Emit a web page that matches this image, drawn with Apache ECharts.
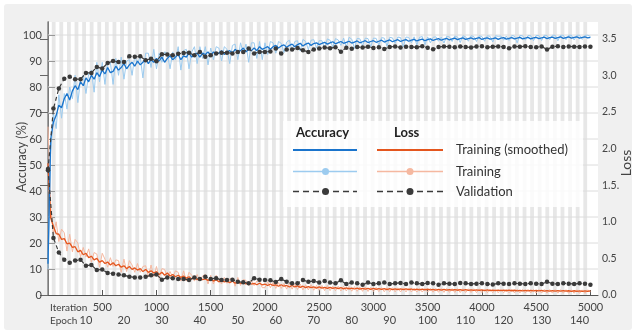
<!DOCTYPE html>
<html>
<head>
<meta charset="utf-8">
<script src="https://cdn.jsdelivr.net/npm/echarts@6/dist/echarts.min.js"></script>
<style>
html,body{margin:0;padding:0;background:#ffffff;}
#chart{width:636px;height:333px;}
</style>
</head>
<body>
<div id="chart"></div>
<script>
// ---- data ----
const ITER_STEP = 25;          // training samples every 25 iterations
const VAL_STEP = 50;           // validation every 50 iterations
const ITERS_PER_EPOCH = 35;
const MAX_ITER = 5000;

const iterTicks = [500,1000,1500,2000,2500,3000,3500,4000,4500,5000];
const epochTicks = [10,20,30,40,50,60,70,80,90,100,110,120,130,140];
const accTicks = [0,10,20,30,40,50,60,70,80,90,100];
const lossTicks = [0,0.5,1,1.5,2,2.5,3,3.5];
const lossTickLabels = ['0.0','0.5','1.0','1.5.','2.0','2.5','3.0','3.5'];

const accSmoothed = [
 12,60,66.5,69,73,72,75.5,77.5,75,78.5,80.5,79,82,80.5,83.5,82,84.5,83,85.5,84,
 86.5,85,87.5,85.5,86,88,86.5,87.5,89,87,88.5,89.5,88,90,88.5,89.5,91,89,90.5,89.5,
 91,90,91.5,89.5,91,92,90.5,91.5,92.5,90.5,92,91.5,93,91.5,92.5,93,91.5,93,92.5,93.5,
 92,93.5,92.5,93,94,92.5,93.5,94,93,94.5,93.5,94,95,93.5,94.5,94,95,94,95.5,94.5,
 95,95.5,94.5,95.5,96,95,95.8,96.2,95.3,96,96.5,95.5,96.3,96.8,95.8,96.5,96.9,96,96.7,97,
 96.3,96.8,97.2,96.5,97,97.4,96.6,97.1,97.5,96.8,97.2,97.6,96.9,97.3,97.7,97,97.4,97.8,97.1,97.5,
 97.8,97.2,97.6,98,97.3,97.7,98.1,97.4,97.8,98.2,97.5,97.9,98.2,97.6,98,98.3,97.7,98.1,98.4,97.8,
 98.2,98.5,97.9,98.3,98.6,98,98.4,98.7,98.1,98.5,98.8,98.2,98.6,98.9,98.3,98.6,98.9,98.4,98.7,99,
 98.3,98.7,98.9,98.4,98.6,98.9,98.3,98.8,99,98.4,98.7,99,98.5,98.8,99.1,98.5,98.8,99.1,98.5,98.9,
 99.1,98.6,98.9,99.2,98.6,99,99.2,98.7,99,99.3,98.7,99,99.3,98.8,99.1,99.3,98.8,99.1,99.3,98.9,
 99.1
];
const accTraining = [
 10,55,69.5,64,77,68,77.5,71.5,80,75.5,84.5,74,83,84.5,77.5,85,86.5,78,89.5,82,
 89.5,81,89.5,89.5,81,91,84.5,91.5,83,90,90.5,84.5,92,89,91.5,83.5,93,93,87.5,94.5,
 87,93,89.5,93.5,93,87,93.5,90.5,95.5,86.5,94,94.5,87,93.5,95.5,89,95.5,91,95.5,88.5,
 95,90.5,95.5,95,90,95.5,94.5,89,96,96.5,90.5,97,93,96.5,89.5,97,97,91,97.5,90.5,
 97,92.5,97.5,97,93,97.5,96.8,93.2,97.3,98,94,97.5,97.8,93.8,98.3,97.5,94.4,98,98.2,95,
 97.8,97.8,94.7,98.5,98,95.4,98.6,98.1,96,98.8,95.2,99.1,98.4,94.8,98.7,98.5,95.9,98.8,98.6,95.5,
 98.8,98.7,96.1,99,98.8,95.7,99.1,98.9,96.8,99.2,99,95.4,99.2,99.1,97,99.3,96.2,99.1,99.4,96.3,
 99.2,97,99.1,99.3,97.6,99.2,96.9,99.5,99.3,97.5,99.6,99.2,97.1,99.7,99.3,97.6,99.7,99.4,97.5,99.7,
 99.4,97.6,99.7,99.5,97.3,99.7,99.5,99.6,98,99.6,97.9,99.8,99.6,97,99.8,99.7,98,99.8,99.7,97.8,
 99.8,99.8,97.9,99.9,99.8,98.2,99.9,99.9,97.8,99.9,99.9,98.2,99.9,99.9,98.1,99.9,99.9,98.3,99.9,99.9,
 99.5
];
const lossSmoothed = [
 1.8,1.05,0.94,0.84,0.83,0.76,0.77,0.7,0.71,0.65,0.66,0.59,0.61,0.55,0.57,0.51,0.53,0.48,0.5,0.45,
 0.47,0.43,0.45,0.41,0.44,0.4,0.42,0.38,0.4,0.36,0.39,0.35,0.37,0.34,0.36,0.32,0.35,0.31,0.33,0.3,
 0.32,0.28,0.31,0.27,0.3,0.26,0.28,0.25,0.27,0.24,0.26,0.23,0.25,0.22,0.24,0.21,0.23,0.21,0.22,0.2,
 0.22,0.19,0.21,0.18,0.2,0.18,0.19,0.17,0.19,0.16,0.18,0.16,0.17,0.15,0.17,0.15,0.16,0.14,0.16,0.14,
 0.15,0.13,0.15,0.13,0.14,0.12,0.14,0.12,0.13,0.11,0.13,0.11,0.125,0.105,0.12,0.1,0.115,0.1,0.11,0.095,
 0.11,0.095,0.105,0.09,0.105,0.09,0.1,0.088,0.1,0.085,0.098,0.085,0.095,0.082,0.095,0.08,0.092,0.08,0.09,0.078,
 0.09,0.077,0.088,0.076,0.087,0.075,0.086,0.074,0.085,0.073,0.084,0.072,0.083,0.072,0.082,0.071,0.081,0.07,0.08,0.07,
 0.079,0.069,0.078,0.068,0.077,0.067,0.076,0.066,0.075,0.066,0.074,0.065,0.073,0.064,0.072,0.064,0.071,0.063,0.07,0.062,
 0.07,0.061,0.069,0.06,0.068,0.06,0.067,0.059,0.066,0.058,0.066,0.058,0.065,0.057,0.064,0.057,0.064,0.056,0.063,0.056,
 0.062,0.055,0.062,0.054,0.061,0.054,0.06,0.053,0.06,0.052,0.059,0.052,0.058,0.051,0.058,0.05,0.057,0.05,0.056,0.05,
 0.055
];
const lossTraining = [
 2.3,1.2,0.84,1.0,0.73,0.9,0.85,0.6,0.83,0.59,0.76,0.71,0.52,0.65,0.52,0.63,0.45,0.58,0.56,0.38,
 0.57,0.49,0.38,0.51,0.39,0.48,0.47,0.31,0.49,0.32,0.47,0.41,0.31,0.43,0.31,0.39,0.4,0.25,0.41,0.25,
 0.39,0.23,0.36,0.35,0.24,0.32,0.24,0.33,0.31,0.19,0.33,0.19,0.31,0.27,0.19,0.28,0.19,0.26,0.28,0.15,
 0.27,0.15,0.27,0.21,0.15,0.24,0.16,0.22,0.23,0.12,0.24,0.13,0.21,0.2,0.13,0.2,0.13,0.19,0.19,0.1,
 0.1,0.18,0.1,0.17,0.09,0.17,0.09,0.16,0.08,0.16,0.08,0.15,0.075,0.15,0.07,0.14,0.07,0.14,0.065,0.13,
 0.065,0.13,0.06,0.13,0.06,0.12,0.058,0.12,0.055,0.12,0.055,0.115,0.052,0.115,0.05,0.11,0.05,0.11,0.048,0.105,
 0.048,0.105,0.046,0.1,0.045,0.1,0.044,0.1,0.043,0.098,0.042,0.097,0.042,0.096,0.041,0.095,0.04,0.094,0.04,0.093,
 0.039,0.092,0.038,0.091,0.037,0.09,0.036,0.089,0.036,0.088,0.035,0.087,0.034,0.086,0.034,0.085,0.033,0.085,0.033,0.084,
 0.032,0.083,0.032,0.082,0.031,0.081,0.031,0.08,0.03,0.08,0.03,0.079,0.029,0.078,0.029,0.077,0.028,0.077,0.028,0.076,
 0.027,0.075,0.027,0.075,0.026,0.074,0.026,0.073,0.025,0.073,0.025,0.072,0.024,0.071,0.024,0.071,0.023,0.07,0.023,0.07,
 0.045
];
const accValidation = [
 48,71.7,79.4,83.2,83.9,83.0,83.0,85.4,85.4,87.7,
 87.1,89.2,90.0,89.6,89.6,91.8,91.6,91.8,90.3,90.9,
 89.9,92.6,92.5,92.2,92.8,93.1,93.2,92.2,93.5,91.6,
 92.2,92.9,93.2,93.2,92.9,93.5,93.5,94.8,92.9,93.5,
 93.5,93.7,94.8,92.9,94.4,94.4,95.0,94.1,93.5,94.4,
 94.8,95.2,94.9,95.3,93.6,95.1,94.7,95.4,95.2,95.5,
 95.0,95.3,94.6,95.4,95.6,95.2,95.5,95.4,95.3,95.7,
 95.1,94.5,95.4,95.6,95.5,95.3,95.6,95.4,95.2,95.6,
 95.7,95.3,95.5,95.6,95.4,94.9,95.6,95.5,95.7,95.4,
 95.3,95.6,94.4,95.5,95.7,95.4,95.6,95.5,95.4,95.6,
 95.5
];
const lossValidation = [
 1.72,0.78,0.58,0.48,0.44,0.47,0.48,0.40,0.41,0.34,
 0.35,0.30,0.29,0.28,0.27,0.25,0.24,0.24,0.25,0.27,
 0.28,0.21,0.24,0.23,0.22,0.22,0.205,0.24,0.22,0.25,
 0.22,0.23,0.205,0.205,0.21,0.18,0.175,0.16,0.23,0.21,
 0.205,0.2,0.178,0.22,0.18,0.16,0.16,0.205,0.18,0.19,
 0.17,0.19,0.17,0.16,0.2,0.15,0.17,0.16,0.14,0.17,
 0.15,0.16,0.17,0.15,0.16,0.165,0.15,0.17,0.16,0.15,
 0.165,0.16,0.14,0.16,0.155,0.15,0.165,0.16,0.15,0.155,
 0.16,0.15,0.145,0.16,0.155,0.15,0.16,0.155,0.15,0.16,
 0.155,0.15,0.18,0.155,0.15,0.16,0.155,0.15,0.16,0.155,
 0.14
];

// ---- build ----
const toPairs = (arr, step) => arr.map((v, i) => [i * step, v]);
const stripeData = [];
const nEpochs = Math.ceil(MAX_ITER / ITERS_PER_EPOCH);
for (let e = 1; e < nEpochs; e += 2) {
  stripeData.push([e * ITERS_PER_EPOCH, Math.min((e + 1) * ITERS_PER_EPOCH, MAX_ITER)]);
}
const gridData = accTicks.slice(1).map(v => [v]);

const FONT = 'Lato';
const TXT = '#444';
const BLUE = '#1a74cc', LBLUE = '#9ccbef', ORANGE = '#e4561e', LORANGE = '#f5b8a0', VAL = '#3a3a3a';
const X_MAX = 5070, ACC_MAX = 105, LOSS_MAX = 3.73;

const chart = echarts.init(document.getElementById('chart'), null, {renderer: 'canvas'});
const option = {
  animation: false,
  backgroundColor: '#ffffff',
  textStyle: {fontFamily: FONT},
  grid: {left: 48, right: 38, top: 22, bottom: 38, containLabel: false, outerBoundsMode: 'none',
         show: true, backgroundColor: '#ffffff', borderWidth: 0},
  xAxis: [{
    type: 'value', min: 0, max: X_MAX, position: 'bottom',
    axisLine: {show: true, onZero: false, lineStyle: {color: '#555', width: 1}},
    axisTick: {show: true, inside: true, length: 5, customValues: iterTicks, lineStyle: {color: '#555'}},
    axisLabel: {customValues: iterTicks, color: TXT, fontSize: 11, fontFamily: FONT, margin: 7, formatter: v => String(v)},
    splitLine: {show: false}
  }, {
    type: 'value', min: 0, max: X_MAX / ITERS_PER_EPOCH, position: 'bottom', offset: 13,
    axisLine: {show: false}, axisTick: {show: false},
    axisLabel: {customValues: epochTicks, color: TXT, fontSize: 11, fontFamily: FONT, margin: 7, formatter: v => String(v)},
    splitLine: {show: false}
  }],
  yAxis: [{
    type: 'value', min: 0, max: ACC_MAX, position: 'left',
    axisLine: {show: true, lineStyle: {color: '#555', width: 1}},
    axisTick: {show: true, inside: true, length: 7, customValues: accTicks, lineStyle: {color: '#555'}},
    axisLabel: {customValues: accTicks, color: TXT, fontSize: 11, fontFamily: FONT, margin: 6},
    splitLine: {show: false}
  }, {
    type: 'value', min: 0, max: LOSS_MAX, position: 'right',
    axisLine: {show: true, lineStyle: {color: '#888', width: 1.5}},
    axisTick: {show: true, inside: true, length: 8, customValues: lossTicks, lineStyle: {color: '#666'}},
    axisLabel: {customValues: lossTicks, color: TXT, fontSize: 10.5, fontFamily: FONT, margin: 4,
      formatter: v => { const i = lossTicks.indexOf(v); return i >= 0 ? lossTickLabels[i] : v.toFixed(1); }},
    splitLine: {show: false}
  }],
  series: [
    {
      name: 'stripes', type: 'custom', xAxisIndex: 0, yAxisIndex: 0, z: 0, silent: true, clip: true,
      data: stripeData, encode: {x: [0, 1]},
      renderItem: (params, api) => {
        const p0 = api.coord([api.value(0), ACC_MAX]);
        const p1 = api.coord([api.value(1), 0]);
        return {type: 'rect', shape: {x: p0[0], y: p0[1], width: p1[0] - p0[0], height: p1[1] - p0[1]},
                style: {fill: '#e7e7e7'}};
      }
    },
    {
      name: 'hgrid', type: 'custom', xAxisIndex: 0, yAxisIndex: 0, z: 1, silent: true,
      data: gridData, encode: {y: 0},
      renderItem: (params, api) => {
        const a = api.coord([0, api.value(0)]);
        const b = api.coord([X_MAX, api.value(0)]);
        return {type: 'line', shape: {x1: a[0], y1: a[1], x2: b[0], y2: b[1]}, style: {stroke: '#dcdcdc', lineWidth: 1}};
      }
    },
    {name: 'Loss Training', type: 'line', xAxisIndex: 0, yAxisIndex: 1, data: toPairs(lossTraining, ITER_STEP),
      showSymbol: false, lineStyle: {color: LORANGE, width: 1}, z: 2},
    {name: 'Accuracy Training', type: 'line', xAxisIndex: 0, yAxisIndex: 0, data: toPairs(accTraining, ITER_STEP),
      showSymbol: false, lineStyle: {color: LBLUE, width: 1}, z: 2},
    {name: 'Loss Training (smoothed)', type: 'line', xAxisIndex: 0, yAxisIndex: 1, data: toPairs(lossSmoothed, ITER_STEP),
      showSymbol: false, lineStyle: {color: ORANGE, width: 1.3}, z: 3},
    {name: 'Accuracy Training (smoothed)', type: 'line', xAxisIndex: 0, yAxisIndex: 0, data: toPairs(accSmoothed, ITER_STEP),
      showSymbol: false, lineStyle: {color: BLUE, width: 1.3}, z: 3},
    {name: 'Accuracy Validation', type: 'line', xAxisIndex: 0, yAxisIndex: 0, data: toPairs(accValidation, VAL_STEP),
      symbol: 'circle', symbolSize: 4.5, itemStyle: {color: VAL}, lineStyle: {color: VAL, width: 1.2, type: [4, 3]}, z: 4},
    {name: 'Loss Validation', type: 'line', xAxisIndex: 0, yAxisIndex: 1, data: toPairs(lossValidation, VAL_STEP),
      symbol: 'circle', symbolSize: 4.5, itemStyle: {color: VAL}, lineStyle: {color: VAL, width: 1.2, type: [4, 3]}, z: 4}
  ],
  graphic: [
    {type: 'rect', z: -10, silent: true, shape: {x: 4, y: 4, width: 628, height: 326, r: 3}, style: {fill: '#f0f0f0'}},
    {type: 'text', z: 10, x: 50, y: 308, style: {text: 'Iteration', fill: TXT, font: '10px ' + FONT, textVerticalAlign: 'middle'}},
    {type: 'text', z: 10, x: 50, y: 321, style: {text: 'Epoch', fill: TXT, font: '10px ' + FONT, textVerticalAlign: 'middle'}},
    {type: 'text', z: 10, x: 22, y: 157, rotation: Math.PI / 2,
      style: {text: 'Accuracy (%)', fill: TXT, font: '12.5px ' + FONT, textAlign: 'center', textVerticalAlign: 'middle'}},
    {type: 'text', z: 10, x: 626, y: 163, rotation: Math.PI / 2,
      style: {text: 'Loss', fill: TXT, font: '14px ' + FONT, textAlign: 'center', textVerticalAlign: 'middle'}},
    // legend box
    {type: 'rect', z: 20, shape: {x: 283, y: 121, width: 300, height: 86}, style: {fill: 'rgba(255,255,255,0.82)'}},
    {type: 'text', z: 21, x: 296, y: 133, style: {text: 'Accuracy', fill: '#222', font: 'bold 13px ' + FONT, textVerticalAlign: 'middle'}},
    {type: 'text', z: 21, x: 394, y: 133, style: {text: 'Loss', fill: '#222', font: 'bold 13px ' + FONT, textVerticalAlign: 'middle'}},
    {type: 'line', z: 21, shape: {x1: 293, y1: 150, x2: 357, y2: 150}, style: {stroke: BLUE, lineWidth: 2}},
    {type: 'line', z: 21, shape: {x1: 377, y1: 150, x2: 443, y2: 150}, style: {stroke: ORANGE, lineWidth: 2}},
    {type: 'line', z: 21, shape: {x1: 293, y1: 171.5, x2: 357, y2: 171.5}, style: {stroke: LBLUE, lineWidth: 1.5}},
    {type: 'circle', z: 22, shape: {cx: 325.5, cy: 171.5, r: 3.5}, style: {fill: LBLUE}},
    {type: 'line', z: 21, shape: {x1: 377, y1: 171.5, x2: 443, y2: 171.5}, style: {stroke: LORANGE, lineWidth: 1.5}},
    {type: 'circle', z: 22, shape: {cx: 410, cy: 171.5, r: 3.5}, style: {fill: LORANGE}},
    {type: 'line', z: 21, shape: {x1: 293, y1: 191.5, x2: 357, y2: 191.5}, style: {stroke: VAL, lineWidth: 1.5, lineDash: [6, 4]}},
    {type: 'circle', z: 22, shape: {cx: 325.5, cy: 191.5, r: 3.5}, style: {fill: VAL}},
    {type: 'line', z: 21, shape: {x1: 377, y1: 191.5, x2: 443, y2: 191.5}, style: {stroke: VAL, lineWidth: 1.5, lineDash: [6, 4]}},
    {type: 'circle', z: 22, shape: {cx: 410, cy: 191.5, r: 3.5}, style: {fill: VAL}},
    {type: 'text', z: 21, x: 456, y: 150, style: {text: 'Training (smoothed)', fill: '#333', font: '13px ' + FONT, textVerticalAlign: 'middle'}},
    {type: 'text', z: 21, x: 456, y: 171.5, style: {text: 'Training', fill: '#333', font: '13px ' + FONT, textVerticalAlign: 'middle'}},
    {type: 'text', z: 21, x: 456, y: 191.5, style: {text: 'Validation', fill: '#333', font: '13px ' + FONT, textVerticalAlign: 'middle'}}
  ]
};
chart.setOption(option);
</script>
</body>
</html>
